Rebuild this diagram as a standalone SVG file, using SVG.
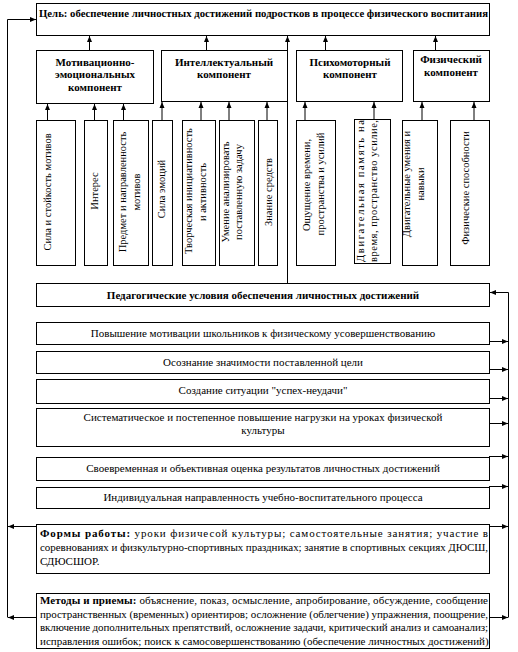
<svg xmlns="http://www.w3.org/2000/svg" width="518" height="652" viewBox="0 0 518 652">
<style>
.b{fill:#fff;stroke:#000;stroke-width:1}
text{font-family:"Liberation Serif","Times New Roman",serif;font-size:11px;fill:#000}
.bd{font-weight:bold}
.c{text-anchor:middle}
.v{font-size:10.5px;text-anchor:middle}
.ln{fill:none;stroke:#000;stroke-width:1}
</style>
<defs>
<marker id="ah" markerUnits="userSpaceOnUse" markerWidth="6" markerHeight="6" viewBox="0 0 6 6" refX="6" refY="3" orient="auto"><path d="M0,0.5 L6,3 L0,5.5 z" fill="#000"/></marker>
</defs>
<rect width="518" height="652" fill="#fff"/>
<g id="connectors" class="ln">
<path d="M7.5,617.5 V19.5 H36" marker-end="url(#ah)"/>
<path d="M36,526.5 H8" marker-end="url(#ah)"/>
<path d="M36,617.5 H8" marker-end="url(#ah)"/>
<path d="M508.5,617.5 V292.5 H490" marker-end="url(#ah)"/>
<path d="M489,341.5 H508" marker-end="url(#ah)"/>
<path d="M489,369.5 H508" marker-end="url(#ah)"/>
<path d="M489,398.5 H508" marker-end="url(#ah)"/>
<path d="M489,423.5 H508" marker-end="url(#ah)"/>
<path d="M489,456.5 H508" marker-end="url(#ah)"/>
<path d="M489,486.5 H508" marker-end="url(#ah)"/>
<path d="M489,526.5 H508" marker-end="url(#ah)"/>
<path d="M489,617.5 H508" marker-end="url(#ah)"/>
<path d="M89.5,50 V36" marker-end="url(#ah)"/>
<path d="M206.5,50 V36" marker-end="url(#ah)"/>
<path d="M325.5,50 V36" marker-end="url(#ah)"/>
<path d="M435.5,50 V36" marker-end="url(#ah)"/>
<path d="M287.5,283 V36" marker-end="url(#ah)"/>
<path d="M47.5,120 V104" marker-end="url(#ah)"/>
<path d="M94.5,120 V104" marker-end="url(#ah)"/>
<path d="M123.5,120 V104" marker-end="url(#ah)"/>
<path d="M162,120 V102" marker-end="url(#ah)"/>
<path d="M201,120 V102" marker-end="url(#ah)"/>
<path d="M229,120 V102" marker-end="url(#ah)"/>
<path d="M267,120 V102" marker-end="url(#ah)"/>
<path d="M305,120 V102" marker-end="url(#ah)"/>
<path d="M374,119 V102" marker-end="url(#ah)"/>
<path d="M422,120 V102" marker-end="url(#ah)"/>
<path d="M474,120 V102" marker-end="url(#ah)"/>
</g>
<g id="goal"><rect class="b" x="36.5" y="3.5" width="453" height="32"/>
<text class="bd" x="39" y="17" textLength="449" lengthAdjust="spacingAndGlyphs">Цель: обеспечение личностных достижений подростков в процессе физического воспитания</text></g>
<g id="comp-motiv"><rect class="b" x="36.5" y="50.5" width="117" height="53"/>
<text class="bd c" x="95" y="66">Мотивационно-</text><text class="bd c" x="95" y="78">эмоциональных</text><text class="bd c" x="95" y="91">компонент</text></g>
<g id="comp-intel"><rect class="b" x="161.5" y="50.5" width="126" height="51"/>
<text class="bd c" x="224" y="66">Интеллектуальный</text><text class="bd c" x="224" y="78">компонент</text></g>
<g id="comp-psych"><rect class="b" x="296.5" y="50.5" width="106" height="51"/>
<text class="bd c" x="350" y="66">Психомоторный</text><text class="bd c" x="350" y="78">компонент</text></g>
<g id="comp-phys"><rect class="b" x="413.5" y="50.5" width="76" height="51"/>
<text class="bd c" x="451" y="63">Физический</text><text class="bd c" x="451" y="76">компонент</text></g>
<g id="v1"><rect class="b" x="36.5" y="120.5" width="39" height="145"/>
<text class="v" transform="translate(50.5,192) rotate(-90)">Сила и стойкость мотивов</text></g>
<g id="v2"><rect class="b" x="84.5" y="120.5" width="23" height="145"/>
<text class="v" transform="translate(97.5,191) rotate(-90)">Интерес</text></g>
<g id="v3"><rect class="b" x="113.5" y="120.5" width="35" height="145"/>
<text class="v" transform="translate(125.5,192) rotate(-90)">Предмет и направленность</text>
<text class="v" transform="translate(139.5,192) rotate(-90)">мотивов</text></g>
<g id="v4"><rect class="b" x="152.5" y="120.5" width="20" height="145"/>
<text class="v" transform="translate(164.5,189) rotate(-90)">Сила эмоций</text></g>
<g id="v5"><rect class="b" x="182.5" y="120.5" width="33" height="145"/>
<text class="v" transform="translate(191.5,191) rotate(-90)">Творческая инициативность</text>
<text class="v" transform="translate(205.5,192) rotate(-90)">и активность</text></g>
<g id="v6"><rect class="b" x="219.5" y="120.5" width="35" height="145"/>
<text class="v" transform="translate(228.5,192) rotate(-90)">Умение анализировать</text>
<text class="v" transform="translate(241.5,192) rotate(-90)">поставленную задачу</text></g>
<g id="v7"><rect class="b" x="258.5" y="120.5" width="19" height="145"/>
<text class="v" transform="translate(271.5,192) rotate(-90)">Знание средств</text></g>
<g id="v8"><rect class="b" x="296.5" y="120.5" width="39" height="145"/>
<text class="v" transform="translate(309.5,185) rotate(-90)">Ощущение времени,</text>
<text class="v" transform="translate(323.5,184) rotate(-90)">пространства и усилий</text></g>
<g id="v9"><rect class="b" x="354.5" y="119.5" width="36" height="144"/>
<text class="v" style="text-anchor:start" transform="translate(363.5,262) rotate(-90)" textLength="142" lengthAdjust="spacing">Двигательная память на</text>
<text class="v" style="text-anchor:start" transform="translate(376.5,262) rotate(-90)" textLength="142" lengthAdjust="spacing">время, пространство усилие,</text></g>
<g id="v10"><rect class="b" x="402.5" y="120.5" width="35" height="145"/>
<text class="v" transform="translate(409.5,184) rotate(-90)">Двигательные умения и</text>
<text class="v" transform="translate(423.5,184) rotate(-90)">навыки</text></g>
<g id="v11"><rect class="b" x="450.5" y="120.5" width="39" height="145"/>
<text class="v" transform="translate(468.5,188) rotate(-90)">Физические способности</text></g>
<g id="ped"><rect class="b" x="36.5" y="283.5" width="453" height="23"/>
<text class="bd c" x="263" y="299">Педагогические условия обеспечения личностных достижений</text></g>
<g id="cond1"><rect class="b" x="36.5" y="322.5" width="453" height="22"/>
<text class="c" x="263" y="337">Повышение мотивации школьников к физическому усовершенствованию</text></g>
<g id="cond2"><rect class="b" x="36.5" y="351.5" width="453" height="22"/>
<text class="c" x="263" y="366">Осознание значимости поставленной цели</text></g>
<g id="cond3"><rect class="b" x="36.5" y="379.5" width="453" height="24"/>
<text class="c" x="263" y="394">Создание ситуации "успех-неудачи"</text></g>
<g id="cond4"><rect class="b" x="36.5" y="408.5" width="453" height="38"/>
<text class="c" x="263" y="421">Систематическое и постепенное повышение нагрузки на уроках физической</text>
<text class="c" x="263" y="434">культуры</text></g>
<g id="cond5"><rect class="b" x="36.5" y="457.5" width="453" height="23"/>
<text class="c" x="263" y="472">Своевременная и объективная оценка результатов личностных достижений</text></g>
<g id="cond6"><rect class="b" x="36.5" y="487.5" width="453" height="21"/>
<text class="c" x="263" y="501">Индивидуальная направленность учебно-воспитательного процесса</text></g>
<g id="forms"><rect class="b" x="36.5" y="524.5" width="453" height="49"/>
<text x="40" y="537" textLength="448" lengthAdjust="spacing"><tspan class="bd">Формы работы:</tspan>   уроки физичесой культуры; самостоятельные занятия; участие в</text>
<text x="40" y="551" textLength="448" lengthAdjust="spacing">соревнованиях и физкультурно-спортивных праздниках; занятие  в спортивных секциях ДЮСШ,</text>
<text x="40" y="565">СДЮСШОР.</text></g>
<g id="methods"><rect class="b" x="36.5" y="593.5" width="453" height="55"/>
<text x="40" y="604" textLength="448" lengthAdjust="spacing"><tspan class="bd">Методы и приемы:</tspan> объяснение, показ, осмысление, апробирование, обсуждение, сообщение</text>
<text x="40" y="617.5" textLength="448" lengthAdjust="spacing">пространственных (временных) ориентиров; осложнение (облегчение) упражнения, поощрение,</text>
<text x="40" y="631" textLength="448" lengthAdjust="spacing">включение дополнительных препятствий, осложнение задачи, критический анализ и самоанализ;</text>
<text x="40" y="644.5">исправления ошибок; поиск к самосовершенствованию (обеспечение личностных достижений)</text></g>
</svg>
